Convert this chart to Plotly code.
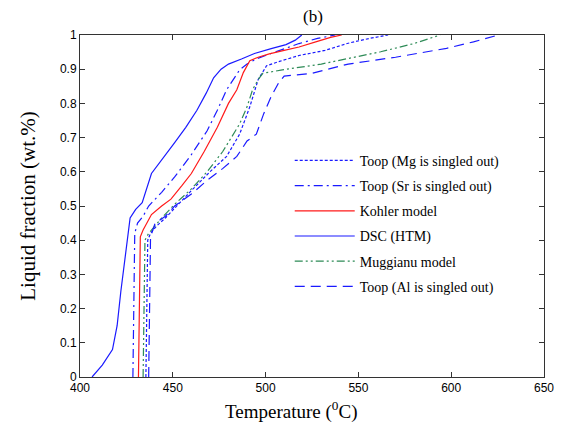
import plotly.graph_objects as go

# Data (temperature in degC, liquid fraction)
mg_T = [435.5, 436, 436.5, 438, 441, 446, 452, 460, 470, 479, 486, 491.5, 496, 500.5, 507.5, 518, 532, 544.5, 556, 566]
mg_f = [0, 0.2, 0.4, 0.42, 0.44, 0.465, 0.5, 0.545, 0.6, 0.645, 0.71, 0.79, 0.87, 0.91, 0.923, 0.94, 0.955, 0.976, 0.99, 1.0]

sr_T = [428.5, 429, 429.5, 431, 434, 437, 444, 451, 460, 468.5, 474, 479, 483, 486, 490, 495, 505, 518, 528, 537.5]
sr_f = [0, 0.2, 0.42, 0.45, 0.47, 0.5, 0.54, 0.585, 0.65, 0.72, 0.78, 0.84, 0.875, 0.898, 0.915, 0.93, 0.95, 0.975, 0.99, 1.0]

ko_T = [431.5, 432, 432.5, 434, 438.5, 444, 449, 455, 460, 467, 474, 480, 484.5, 488, 491.5, 496, 502, 510, 518, 527, 535, 541]
ko_f = [0, 0.2, 0.41, 0.43, 0.475, 0.5, 0.52, 0.56, 0.595, 0.66, 0.73, 0.8, 0.84, 0.89, 0.925, 0.935, 0.945, 0.955, 0.965, 0.98, 0.993, 1.0]

dsc_T = [406.5, 412, 417.5, 420, 422, 424.5, 427, 430, 433.5, 438.5, 445, 451, 457, 463, 468, 472, 476, 480, 487, 494, 503, 511, 516, 519.5]
dsc_f = [0, 0.035, 0.08, 0.15, 0.25, 0.36, 0.465, 0.49, 0.51, 0.595, 0.64, 0.685, 0.73, 0.78, 0.83, 0.875, 0.9, 0.915, 0.93, 0.946, 0.96, 0.972, 0.985, 1.0]

mu_T = [434, 434.5, 435, 437, 440, 444, 451, 460, 468.5, 477, 486, 490, 493, 496, 498.5, 509, 530, 562, 580, 594]
mu_f = [0, 0.2, 0.4, 0.42, 0.44, 0.465, 0.505, 0.55, 0.6, 0.66, 0.74, 0.79, 0.84, 0.87, 0.888, 0.898, 0.915, 0.951, 0.975, 1.0]

al_T = [437, 437.5, 438, 440.5, 446, 451, 460, 468.5, 477, 484.5, 490, 495, 499, 503, 507, 510, 525, 544.5, 570, 597.5, 612, 625.5]
al_f = [0, 0.2, 0.41, 0.45, 0.47, 0.5, 0.535, 0.575, 0.61, 0.645, 0.69, 0.71, 0.77, 0.82, 0.86, 0.88, 0.888, 0.915, 0.935, 0.961, 0.98, 1.0]

names = ["Toop (Mg is singled out)", "Toop (Sr is singled out)", "Kohler model",
         "DSC (HTM)", "Muggianu model", "Toop (Al is singled out)"]

x_ticks = [400, 450, 500, 550, 600, 650]
y_ticks = [0, 0.1, 0.2, 0.3, 0.4, 0.5, 0.6, 0.7, 0.8, 0.9, 1]
y_labels = ["0", "0.1", "0.2", "0.3", "0.4", "0.5", "0.6", "0.7", "0.8", "0.9", "1"]

series = [
    (mg_T, mg_f, "#1a1aff", "3px,2px"),
    (sr_T, sr_f, "#1a1aff", "9px,4px,2px,4px"),
    (ko_T, ko_f, "#ff1a1a", "solid"),
    (dsc_T, dsc_f, "#1a1aff", "solid"),
    (mu_T, mu_f, "#2e8b57", "8px,3px,2px,3px,2px,3px"),
    (al_T, al_f, "#1a1aff", "10px,6px"),
]

fig = go.Figure()
for i, ((t, f, c, d), n) in enumerate(zip(series, names)):
    fig.add_trace(go.Scatter(x=t, y=f, mode="lines", name=n, legendgroup=f"g{i}",
                             line=dict(color=c, width=1.2, dash=d)))

serif = "Liberation Serif"
fig.update_layout(
    width=566, height=434,
    margin=dict(l=80, r=14, t=35, b=57),
    paper_bgcolor="white", plot_bgcolor="white",
    title=dict(text="(b)", x=0.553, xanchor="center", y=0.962, yanchor="middle",
               font=dict(family=serif, size=17, color="black")),
    legend=dict(x=0.452, y=0.679, xanchor="left", yanchor="top",
                bgcolor="rgba(0,0,0,0)", font=dict(family=serif, size=14, color="black"),
                tracegroupgap=4, itemwidth=60),
    showlegend=True,
    annotations=[dict(text="Temperature (<sup>0</sup>C)", xref="paper", yref="paper",
                      x=0.455, y=-0.097, xanchor="center", yanchor="middle", showarrow=False,
                      font=dict(family=serif, size=19, color="black"))],
)
axis_common = dict(showline=True, linecolor="#333333", linewidth=1, mirror="ticks",
                   ticks="inside", ticklen=5, tickcolor="#333333", showgrid=False,
                   zeroline=False, tickfont=dict(family="Liberation Sans", size=12, color="black"))
fig.update_xaxes(range=[400, 650], tickvals=x_ticks, **axis_common)
fig.update_yaxes(range=[0, 1], tickvals=y_ticks, ticktext=y_labels,
                 title=dict(text="Liquid fraction (wt.%)", font=dict(family=serif, size=21, color="black"), standoff=18),
                 **axis_common)

fig.write_html("out.html", config={"displayModeBar": False},
               post_script="document.body.style.margin='0';")
